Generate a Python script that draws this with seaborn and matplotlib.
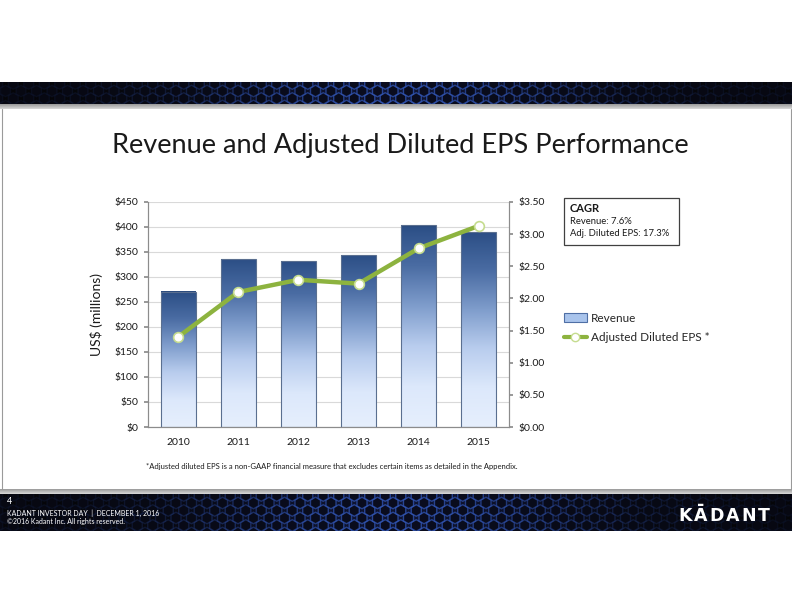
import numpy as np
import pandas as pd
import matplotlib
matplotlib.use("Agg")
import matplotlib.pyplot as plt
import seaborn as sns
from matplotlib.colors import LinearSegmentedColormap
from matplotlib.patches import Patch, Rectangle
from matplotlib.lines import Line2D

# ---- data ----
years = ["2010", "2011", "2012", "2013", "2014", "2015"]
revenue = [271, 336, 332, 344, 403, 390]
eps = [1.40, 2.10, 2.29, 2.23, 2.78, 3.13]
rev_ticks = [0, 50, 100, 150, 200, 250, 300, 350, 400, 450]
eps_ticks = [0.0, 0.5, 1.0, 1.5, 2.0, 2.5, 3.0, 3.5]
title = "Revenue and Adjusted Diluted EPS Performance"

sns.set_theme(style="white")
plt.rcParams["font.family"] = ["Lato", "DejaVu Sans"]

W, H = 792, 612
fig = plt.figure(figsize=(W / 100, H / 100), dpi=100)
fig.patch.set_facecolor("white")

def fy(py):
    return 1 - py / H

# ---- decorative banners ----
def banner(y0, y1):
    bax = fig.add_axes([0, fy(y1), 1, (y1 - y0) / H])
    bax.set_xlim(0, W)
    bax.set_ylim(0, y1 - y0)
    bax.axis("off")
    xs = np.linspace(0, 1, 400)
    glow = np.exp(-((xs - 0.5) / 0.25) ** 2)
    img = np.zeros((1, 400, 3))
    img[0, :, 0] = 0.02 + 0.04 * glow
    img[0, :, 1] = 0.02 + 0.06 * glow
    img[0, :, 2] = 0.03 + 0.16 * glow
    bax.imshow(img, extent=[0, W, 0, y1 - y0], aspect="auto", zorder=0)
    hx, hy = [], []
    step = 15.5
    for r, yy in enumerate(np.arange(-2, y1 - y0 + 8, 7.5)):
        off = (r % 2) * step / 2
        for xx in np.arange(-10, W + 20, step):
            hx.append(xx + off)
            hy.append(yy)
    hx = np.array(hx)
    hy = np.array(hy)
    g = np.exp(-((hx / W - 0.5) / 0.24) ** 2)
    cols = np.zeros((len(hx), 4))
    cols[:, 0] = 0.22
    cols[:, 1] = 0.38
    cols[:, 2] = 0.80
    cols[:, 3] = 0.06 + 0.6 * g
    bax.scatter(hx, hy, s=70, marker="h", facecolors=(0.03, 0.04, 0.09, 0.7),
                edgecolors=cols, linewidths=1.0, zorder=1)
    return bax

banner(82, 104)
fax = banner(494, 531)

# grey strips
for (a, b) in [(104, 109), (489, 494)]:
    sax = fig.add_axes([0, fy(b), 1, (b - a) / H])
    sax.axis("off")
    sax.imshow(np.linspace(0.6, 0.85, 20).reshape(-1, 1), cmap="gray", vmin=0, vmax=1,
               extent=[0, 1, 0, 1], aspect="auto")
# thin side border lines of the slide body
fig.add_artist(Line2D([1.5 / W, 1.5 / W], [fy(489), fy(109)], color="#9a9a9a", lw=0.8))
fig.add_artist(Line2D([1 - 1.5 / W, 1 - 1.5 / W], [fy(489), fy(109)], color="#9a9a9a", lw=0.8))

# footer text
fig.text(7 / W, fy(502), "4", color="white", fontsize=6.5, va="center", ha="left")
fig.text(7 / W, fy(513), "KADANT INVESTOR DAY  |  DECEMBER 1, 2016", color="white",
         fontsize=5.0, va="center", ha="left")
fig.text(7 / W, fy(521.5), "\u00a92016 Kadant Inc. All rights reserved.", color="white",
         fontsize=5.0, va="center", ha="left")
for i, ch in enumerate("K\u0100DANT"):
    fig.text((685 + i * 15.8) / W, fy(516), ch, color="white", fontsize=12.5,
             fontweight="bold", va="center", ha="center", family=["DejaVu Sans"])

# ---- title ----
fig.text(400 / W, fy(145), title, ha="center", va="center", fontsize=19.5, color="#1a1a1a")

# ---- main chart ----
ax = fig.add_axes([148 / W, fy(427), (509 - 148) / W, (427 - 202) / H])
df = pd.DataFrame({"year": years, "revenue": revenue, "eps": eps})
sns.barplot(data=df, x="year", y="revenue", ax=ax, width=0.58, color="#7f9fd0",
            edgecolor="#5a6f90", linewidth=0.8, zorder=3)

cmap = LinearSegmentedColormap.from_list(
    "bargrad", ["#e6effd", "#dce8fb", "#b9cdee", "#7f9dcc", "#4a6ca3", "#2b4e85"])
grad = np.linspace(0, 1, 256).reshape(-1, 1)
for p in ax.patches:
    x0, w, h = p.get_x(), p.get_width(), p.get_height()
    im = ax.imshow(grad, extent=[x0, x0 + w, 0, h], origin="lower", aspect="auto",
                   cmap=cmap, zorder=2.5)
    im.set_clip_path(p)
    p.set_facecolor("none")
    ax.add_patch(Rectangle((x0, h - 3), w, 3, facecolor="#2a4a7e", edgecolor="none", zorder=2.6))

ax.set_xlim(-0.5, 5.5)
ax.set_ylim(0, 450)
ax.set_yticks(rev_ticks)
ax.set_yticklabels([f"${v}" for v in rev_ticks])
ax.yaxis.grid(True, color="#d9d9d9", lw=0.8, zorder=0)
ax.set_axisbelow(True)
ax.set_xlabel("")
ax.set_ylabel("US$ (millions)", fontsize=10, color="#1a1a1a", labelpad=8)
for s in ["left", "right", "bottom"]:
    ax.spines[s].set_color("#8c8c8c")
    ax.spines[s].set_linewidth(0.8)
ax.spines["top"].set_visible(False)
ax.tick_params(axis="both", labelsize=7.5, colors="#1a1a1a", length=0, pad=8)
ax.tick_params(axis="y", length=3, color="#8c8c8c", pad=4, left=True, direction="out")

ax2 = ax.twinx()
sns.pointplot(data=df, x="year", y="eps", ax=ax2, color="#8db33f", markers="o",
              linewidth=3.2, markersize=7, markerfacecolor="white",
              markeredgecolor="#c5dc8f", markeredgewidth=1.2, zorder=5)
ax2.set_xlim(-0.5, 5.5)
ax2.set_ylim(0, 3.5)
ax2.set_yticks(eps_ticks)
ax2.set_yticklabels([f"${v:.2f}" for v in eps_ticks])
ax2.set_ylabel("")
ax2.set_xlabel("")
for s in ["left", "right", "bottom"]:
    ax2.spines[s].set_color("#8c8c8c")
    ax2.spines[s].set_linewidth(0.8)
ax2.spines["top"].set_visible(False)
ax2.tick_params(axis="y", labelsize=7.5, colors="#1a1a1a", length=3, color="#8c8c8c",
                pad=4, right=True, direction="out")
ax.set_xticks(range(len(years)))
ax.set_xticklabels(years)
ax.tick_params(axis="x", labelsize=7.5, pad=8)

# ---- legend ----
handles = [
    Patch(facecolor="#a9c4ec", edgecolor="#4f6fa5", linewidth=0.8, label="Revenue"),
    Line2D([0], [0], color="#8db33f", lw=3, marker="o", markersize=6,
           markerfacecolor="white", markeredgecolor="#c5dc8f", label="Adjusted Diluted EPS *"),
]
fig.legend(handles=handles, loc="upper left", bbox_to_anchor=(553 / W, fy(302)),
           frameon=False, fontsize=8.5, handlelength=2.0, handletextpad=0.3,
           labelspacing=0.7)

# ---- CAGR box ----
fig.add_artist(Rectangle((564 / W, fy(245)), (679 - 564) / W, (245 - 198) / H,
                         transform=fig.transFigure, facecolor="white",
                         edgecolor="#404040", linewidth=0.9))
fig.text(570 / W, fy(208), "CAGR", fontsize=8, fontweight="bold", va="center", color="#1a1a1a")
fig.text(570 / W, fy(221.5), "Revenue: 7.6%", fontsize=6.8, va="center", color="#1a1a1a")
fig.text(570 / W, fy(233.5), "Adj. Diluted EPS: 17.3%", fontsize=6.8, va="center", color="#1a1a1a")

# ---- footnote ----
fig.text(332 / W, fy(466),
         "*Adjusted diluted EPS is a non-GAAP financial measure that excludes certain items as detailed in the Appendix.",
         ha="center", va="center", fontsize=5.5, color="#1a1a1a")

fig.savefig("out.png", dpi=100, facecolor="white")
